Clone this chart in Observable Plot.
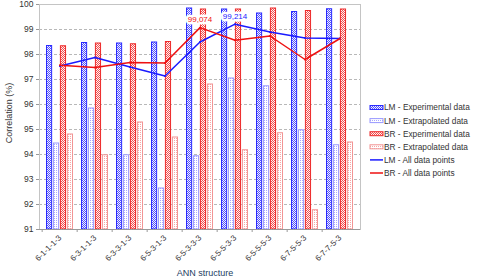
<!DOCTYPE html>
<html>
<head>
<meta charset="utf-8">
<script src="https://cdn.jsdelivr.net/npm/d3@7"></script>
<script src="https://cdn.jsdelivr.net/npm/@observablehq/plot@0.6"></script>
<style>
  html, body { margin: 0; padding: 0; background: #fff; }
  #chart { width: 480px; height: 280px; position: relative; }
  svg { font-family: "Liberation Sans", Arial, sans-serif; }
</style>
</head>
<body>
<div id="chart"></div>
<script>
// ---- data ----
const structures = ["6-1-1-1-3", "6-3-1-1-3", "6-3-3-1-3", "6-5-3-1-3", "6-5-3-3-3", "6-5-5-3-3", "6-5-5-5-3", "6-7-5-5-3", "6-7-7-5-3"];
const seriesNames = ["LM - Experimental data", "LM - Extrapolated data", "BR - Experimental data", "BR - Extrapolated data", "LM - All data points", "BR - All data points"];
const lmExp   = [98.34, 98.46, 98.44, 98.48, 99.84, 99.80, 99.64, 99.70, 99.81];
const lmExtra = [94.44, 95.84, 93.97, 92.64, 93.93, 97.04, 96.73, 94.97, 94.37];
const brExp   = [98.33, 98.44, 98.41, 98.50, 99.80, 99.80, 99.84, 99.74, 99.80];
const brExtra = [94.80, 93.97, 95.28, 94.68, 96.80, 94.17, 94.85, 91.77, 94.48];
const lmAll   = [97.54, 97.88, 97.50, 97.14, 98.50, 99.214, 98.90, 98.66, 98.64];
const brAll   = [97.57, 97.48, 97.68, 97.66, 99.074, 98.57, 98.74, 97.80, 98.64];
const yTicks  = [91, 92, 93, 94, 95, 96, 97, 98, 99, 100];
const yMin = 91, yMax = 100;
const annotated = [
  {structure: structures[4], value: brAll[4], series: "BR"},
  {structure: structures[5], value: lmAll[5], series: "LM"}
];

// ---- styles ----
const blue = "#1a1aff", red = "#ee1111";
const barStyles = [
  {fill: "url(#pLmExp)", stroke: "#2a2aff"},
  {fill: "url(#pLmExt)", stroke: "#9a9aff"},
  {fill: "url(#pBrExp)", stroke: "#ee2a2a"},
  {fill: "url(#pBrExt)", stroke: "#f29494"}
];
const barSeries = [lmExp, lmExtra, brExp, brExtra];

const W = 480, H = 280, mL = 39, mR = 120, mT = 4, mB = 51;
const padIn = 0.22, padOut = 0.11;
const step = (W - mL - mR) / (structures.length - padIn + 2 * padOut);
const bw = step * (1 - padIn);
const q = bw / 4;

const marks = [
  Plot.gridY(yTicks.slice(1, -1), {stroke: "#b8b8b8", strokeOpacity: 1, strokeDasharray: "3,2"}),
];
barSeries.forEach((vals, i) => {
  const rows = structures.map((s, j) => ({structure: s, value: vals[j]}));
  marks.push(Plot.rectY(rows, {
    x: "structure", y1: () => yMin, y2: "value",
    insetLeft: i * q + 0.5, insetRight: (3 - i) * q + 0.5,
    fill: barStyles[i].fill, stroke: barStyles[i].stroke, strokeWidth: 1
  }));
});
const lmRows = structures.map((s, j) => ({structure: s, value: lmAll[j]}));
const brRows = structures.map((s, j) => ({structure: s, value: brAll[j]}));
marks.push(
  Plot.frame({stroke: "#c4c4c4"}),
  Plot.ruleY([yMin], {stroke: "#999"}),
  Plot.line(lmRows, {x: "structure", y: "value", stroke: blue, strokeWidth: 1.5}),
  Plot.line(brRows, {x: "structure", y: "value", stroke: red, strokeWidth: 1.5}),
  Plot.dot(lmRows, {x: "structure", y: "value", r: 1, fill: blue, stroke: "none"}),
  Plot.dot(brRows, {x: "structure", y: "value", r: 1, fill: red, stroke: "none"}),
  Plot.text(annotated, {
    x: "structure", y: "value", dy: -8,
    text: d => String(d.value).replace(".", ","),
    fill: d => d.series === "LM" ? blue : red,
    stroke: "white", strokeWidth: 5, paintOrder: "stroke", fontSize: 8
  }),
  Plot.axisY(yTicks, {tickSize: 3, tickPadding: 3, fontSize: 8.5, color: "#333", label: null, stroke: "#999"}),
  Plot.axisX({tickSize: 3, tickFormat: () => "", dx: -step / 2, label: null, stroke: "#999"}),
  Plot.axisX({tickSize: 0, tickPadding: 7, tickRotate: -45, fontSize: 8, fill: "#333", label: null})
);

const plot = Plot.plot({
  width: W, height: H,
  marginLeft: mL, marginRight: mR, marginTop: mT, marginBottom: mB,
  style: {fontFamily: "'Liberation Sans', Arial, sans-serif", background: "white"},
  x: {type: "band", domain: structures, paddingInner: padIn, paddingOuter: padOut, label: null},
  y: {domain: [yMin, yMax], label: null},
  marks
});

// patterns & legend
const svg = d3.select(plot);
const defs = svg.insert("defs", ":first-child");
function pat(id, bg, fg, dense) {
  const p = defs.append("pattern").attr("id", id).attr("patternUnits", "userSpaceOnUse")
    .attr("width", 2).attr("height", 2);
  p.append("rect").attr("width", 2).attr("height", 2).attr("fill", bg);
  p.append("rect").attr("width", 1).attr("height", 1).attr("fill", fg);
  if (dense) p.append("rect").attr("x", 1).attr("y", 1).attr("width", 1).attr("height", 1).attr("fill", fg);
}
pat("pLmExp", "#f2f2ff", "#5050ff", true);
pat("pLmExt", "#ffffff", "#a8a8ff", false);
pat("pBrExp", "#fff2f2", "#f05050", true);
pat("pBrExt", "#ffffff", "#f4a8a8", false);

const lg = svg.append("g").attr("font-size", 8.3).attr("fill", "#333").attr("text-anchor", "start")
  .attr("font-family", "'Liberation Sans', Arial, sans-serif");
seriesNames.forEach((name, i) => {
  const y = 107.5 + i * 13.1;
  if (i < 4) {
    lg.append("rect").attr("x", 370).attr("y", y - 2).attr("width", 13).attr("height", 4)
      .attr("fill", barStyles[i].fill).attr("stroke", barStyles[i].stroke).attr("stroke-width", 1);
  } else {
    lg.append("line").attr("x1", 370).attr("x2", 383).attr("y1", y).attr("y2", y)
      .attr("stroke", i === 4 ? blue : red).attr("stroke-width", 1.5);
  }
  lg.append("text").attr("x", 384).attr("y", y).attr("dy", "0.35em").attr("text-anchor", "start").text(name);
});
// axis titles
svg.append("text").attr("transform", "translate(12,113) rotate(-90)")
  .attr("text-anchor", "middle").attr("font-size", 9).attr("fill", "#333")
  .attr("font-family", "'Liberation Sans', Arial, sans-serif").text("Correlation (%)");
svg.append("text").attr("x", 205).attr("y", 276).attr("text-anchor", "middle")
  .attr("font-size", 9).attr("fill", "#23405f")
  .attr("font-family", "'Liberation Sans', Arial, sans-serif").text("ANN structure");

document.getElementById("chart").appendChild(plot);
</script>
</body>
</html>
